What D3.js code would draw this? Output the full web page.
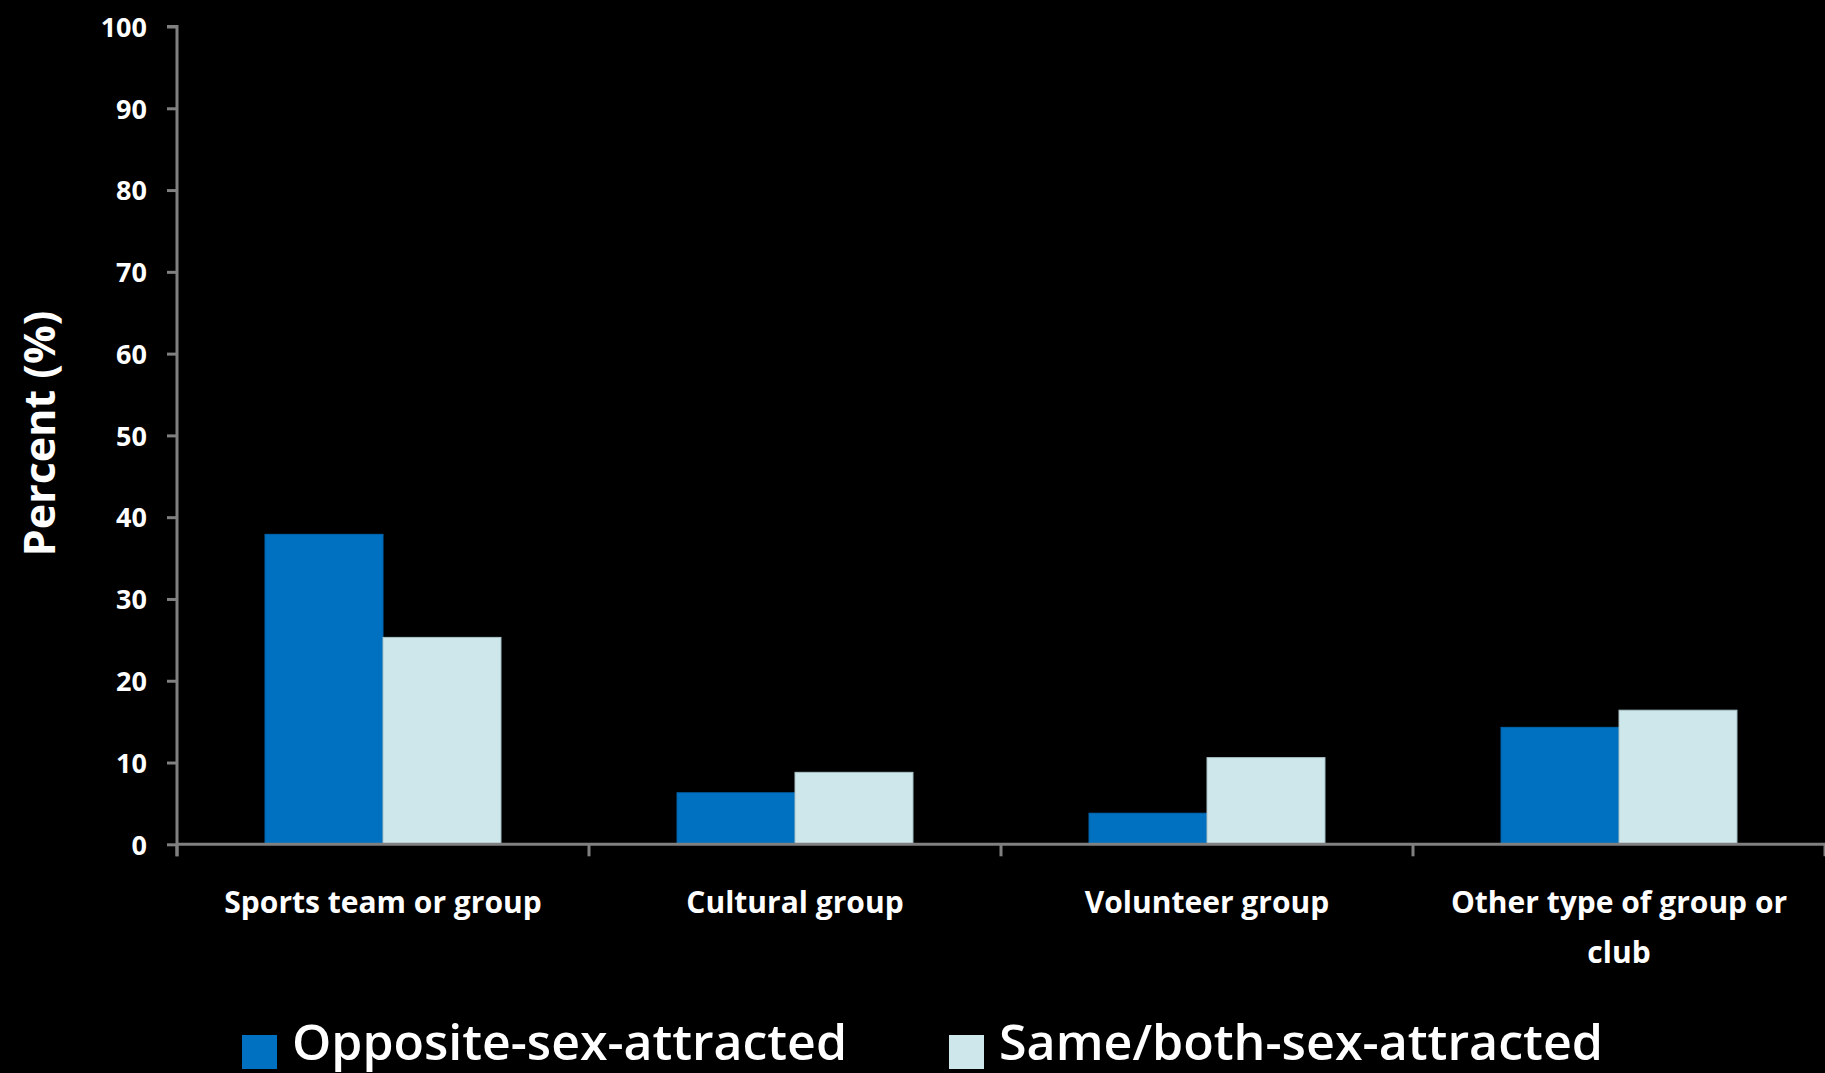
<!DOCTYPE html>
<html><head><meta charset="utf-8">
<script src="https://cdn.jsdelivr.net/npm/d3@7"></script>
<style>
html,body{margin:0;padding:0;background:#000;}
svg{display:block;}
text{font-family:"Open Sans",sans-serif;font-weight:700;fill:#fff;}
</style></head>
<body>
<svg id="chart" width="1825" height="1073"></svg>
<script>
const categories = ["Sports team or group", "Cultural group", "Volunteer group", "Other type of group or club"];
const seriesNames = ["Opposite-sex-attracted", "Same/both-sex-attracted"];
const oppositeValues = [37.9, 6.3, 3.8, 14.3];
const sameValues = [25.3, 8.8, 10.6, 16.4];
const yTicks = [0, 10, 20, 30, 40, 50, 60, 70, 80, 90, 100];
const yTitle = "Percent (%)";
const colors = ["#0070C0", "#CDE7EB"];
const strokes = ["#0066b0", "#a9c3c8"];

const svg = d3.select("#chart");
svg.append("rect").attr("width", 1825).attr("height", 1073).attr("fill", "#000");

const mLeft = 177, mRight = 1825, mTop = 26.5, mBottom = 844.3;
const x = d3.scaleBand().domain(categories).range([mLeft, mRight]).paddingInner(0).paddingOuter(0);
const xs = d3.scaleBand().domain(seriesNames).range([0, x.bandwidth()]).paddingInner(0).paddingOuter(0.746);
const y = d3.scaleLinear().domain([0, 100]).range([mBottom, mTop]);

const seriesData = [oppositeValues, sameValues];
const rows = categories.map((c, i) => ({cat: c, vals: seriesNames.map((s, j) => ({s, j, v: seriesData[j][i]}))}));

// bars
const g = svg.append("g");
g.selectAll("g.cat").data(rows).join("g").attr("class", "cat")
  .attr("transform", d => `translate(${x(d.cat)},0)`)
  .selectAll("rect").data(d => d.vals).join("rect")
  .attr("x", d => xs(d.s))
  .attr("width", xs.bandwidth())
  .attr("y", d => y(d.v))
  .attr("height", d => y(0) - y(d.v))
  .attr("fill", d => colors[d.j])
  .attr("stroke", d => strokes[d.j])
  .attr("stroke-width", 1);

// y axis
const yAxis = svg.append("g").attr("transform", `translate(${mLeft},0)`)
  .call(d3.axisLeft(y).tickValues(yTicks).tickSize(10).tickPadding(20).tickFormat(d3.format("d")));
yAxis.select(".domain").attr("stroke", "#808080").attr("stroke-width", 3)
  .attr("d", `M-10,${y(100)}H0V${mBottom + 12}`);
yAxis.selectAll(".tick line").attr("stroke", "#808080").attr("stroke-width", 3);
yAxis.selectAll(".tick text").attr("font-size", 27).attr("fill", "#fff").attr("dy", "0.36em")
  .style("font-family", "'Open Sans',sans-serif").style("font-weight", 700);

// x axis
const xAxis = svg.append("g").attr("transform", `translate(0,${mBottom})`)
  .call(d3.axisBottom(x).tickSize(0).tickFormat(""));
xAxis.select(".domain").attr("stroke", "#808080").attr("stroke-width", 3).attr("d", `M${mLeft},0H${mRight}`);
xAxis.selectAll(".tick").remove();
const boundaries = categories.map(c => x(c)).concat([x.range()[1]]);
xAxis.selectAll("line.bt").data(boundaries).join("line").attr("class", "bt")
  .attr("x1", d => d).attr("x2", d => d).attr("y1", 0).attr("y2", 12)
  .attr("stroke", "#808080").attr("stroke-width", 3);

// category labels with wrapping
const labelG = svg.append("g");
categories.forEach(c => {
  const cx = x(c) + x.bandwidth() / 2;
  const t = labelG.append("text").attr("x", cx).attr("y", 913)
    .attr("text-anchor", "middle").attr("font-size", 30);
  const words = c.split(" ");
  let line = [];
  let tspan = t.append("tspan").attr("x", cx).attr("dy", 0);
  words.forEach(w => {
    line.push(w);
    tspan.text(line.join(" "));
    if (tspan.node().getComputedTextLength() > 340 && line.length > 1) {
      line.pop();
      tspan.text(line.join(" "));
      line = [w];
      tspan = t.append("tspan").attr("x", cx).attr("dy", 50).text(w);
    }
  });
});

// y title
svg.append("text").attr("transform", `translate(55,433.5) rotate(-90)`)
  .attr("text-anchor", "middle").attr("font-size", 43).text(yTitle);

// legend
const legendX = [242, 949];
const legendW = [555, 604];
const lg = svg.append("g");
seriesNames.forEach((s, j) => {
  lg.append("rect").attr("x", legendX[j]).attr("y", 1035).attr("width", 35).attr("height", 34).attr("fill", colors[j]);
  lg.append("text").attr("x", legendX[j] + 50).attr("y", 1060).attr("font-size", 48)
    .style("font-weight", 600).attr("textLength", legendW[j]).attr("lengthAdjust", "spacingAndGlyphs").text(s);
});
</script>
</body></html>
